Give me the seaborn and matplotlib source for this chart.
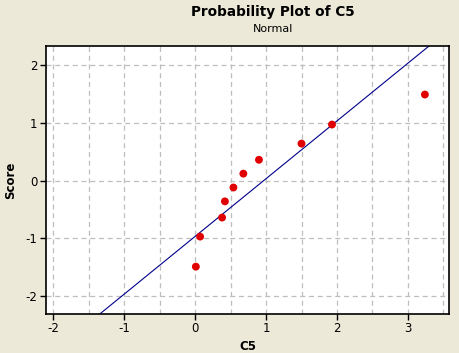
import seaborn as sns
import numpy as np
import pandas as pd
import matplotlib.pyplot as plt

# data
c5 = [0.01, 0.07, 0.38, 0.42, 0.54, 0.68, 0.90, 1.50, 1.93, 3.24]
score = [-1.49, -0.97, -0.64, -0.36, -0.12, 0.12, 0.36, 0.64, 0.97, 1.49]
x_ticks = [-2, -1, 0, 1, 2, 3]
y_ticks = [-2, -1, 0, 1, 2]

df = pd.DataFrame({"C5": c5, "Score": score})
bg = "#ECE9D8"

sns.set_style("white")
plt.rcParams['font.family'] = ['DejaVu Sans']
plt.rcParams['axes.unicode_minus'] = False
plt.rcParams['text.color'] = 'black'
plt.rcParams['axes.labelcolor'] = 'black'
plt.rcParams['xtick.color'] = 'black'
plt.rcParams['ytick.color'] = 'black'

fig = plt.figure(figsize=(4.6, 3.53), dpi=100, facecolor=bg)
ax = fig.add_axes([46/460, 1-314/353, (449-46)/460, (314-46)/353])
ax.set_facecolor("white")

xlim = (-2.103, 3.58)
ylim = (-2.31, 2.33)

# fitted normal line
mu = np.mean(c5)
sd = np.std(c5, ddof=1)
xs = np.array(xlim)
sns.lineplot(x=xs, y=(xs - mu) / sd, color="#00008B", lw=0.8, ax=ax)

sns.scatterplot(data=df, x="C5", y="Score", color="#E00000", s=32,
                edgecolor="none", ax=ax, zorder=3)

ax.set_xlim(xlim)
ax.set_ylim(ylim)
ax.set_xticks(x_ticks)
ax.set_yticks(y_ticks)
for v in np.arange(-2, 3.6, 0.5):
    ax.axvline(v, color="#BEBEBE", ls=(0, (4, 3)), lw=0.9, zorder=0)
for v in y_ticks:
    ax.axhline(v, color="#BEBEBE", ls=(0, (4, 3)), lw=0.9, zorder=0)

for s in ax.spines.values():
    s.set_color("black")
    s.set_linewidth(1.2)
ax.tick_params(axis="both", direction="out", length=4, width=1, color="black",
               labelsize=8.5, pad=2, bottom=True, left=True)

ax.set_xlabel("C5", fontsize=8.5, fontweight="bold", labelpad=3)
ax.set_ylabel("Score", fontsize=8.5, fontweight="bold")
ax.yaxis.set_label_coords(-29/403, 0.5)

fig.text(273/460, 1-12/353, "Probability Plot of C5", ha="center", va="center",
         fontsize=9.8, fontweight="bold")
fig.text(273/460, 1-29/353, "Normal", ha="center", va="center", fontsize=8)

fig.savefig("out.png", dpi=100, facecolor=bg)
